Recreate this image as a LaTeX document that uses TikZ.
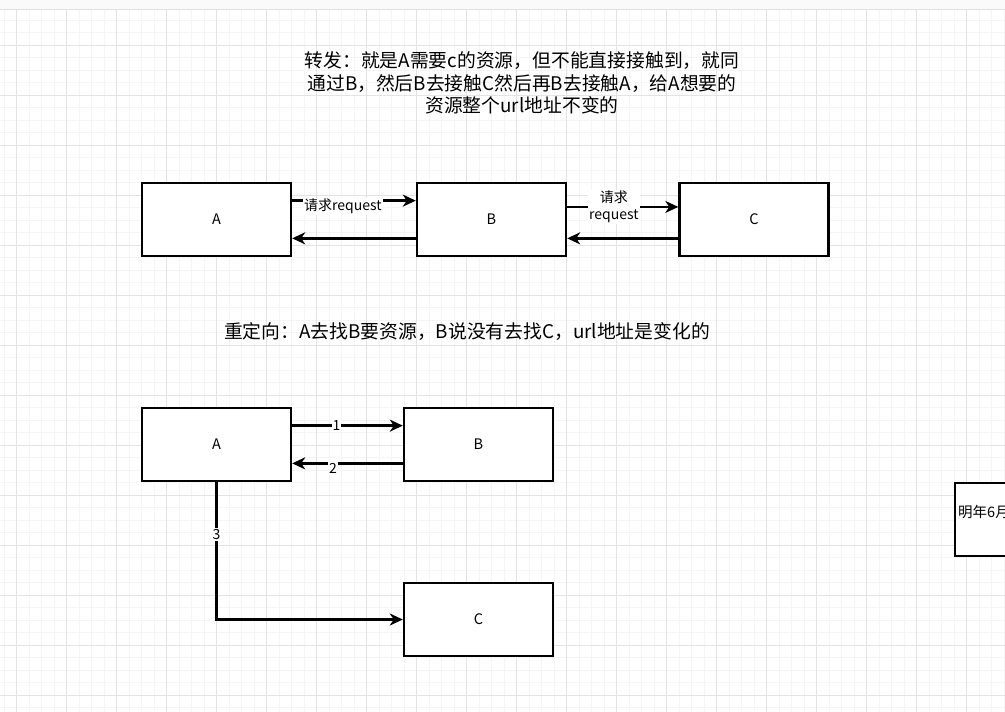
\documentclass[tikz,border=0pt]{standalone}
\usepackage{fontspec}
\setmainfont{Noto Sans CJK SC}
\usetikzlibrary{arrows.meta,calc}
\begin{document}
\begin{tikzpicture}[x=1pt,y=-1pt,
  box/.style={draw,line width=2.4pt,minimum width=149pt,minimum height=73pt,inner sep=0pt,font=\fontsize{14.5}{17}\selectfont,fill=white},
  arr/.style={line width=2.4pt,-{Stealth[length=13pt,width=12pt,inset=4pt]}},
  lbl/.style={fill=white,inner sep=1pt,font=\fontsize{14}{16.5}\selectfont,align=center},
  title/.style={font=\fontsize{18.8}{22.5}\selectfont,align=center},
  minorline/.style={black!4,line width=1pt},
  majorline/.style={black!11,line width=1pt}]
\useasboundingbox (0,0) rectangle (1005,712);
\clip (0,0) rectangle (1005,712);
\fill[white] (0,0) rectangle (1005,712);
\foreach \i in {0,...,80} \draw[minorline] ({4.2+12.5*\i},9) -- ({4.2+12.5*\i},712);
\foreach \j in {0,...,56} \draw[minorline] (0,{20+12.5*\j}) -- (1005,{20+12.5*\j});
\foreach \i in {0,...,20} \draw[majorline] ({16.7+50*\i},9) -- ({16.7+50*\i},712);
\foreach \j in {0,...,13} \draw[majorline] (0,{45+50*\j}) -- (1005,{45+50*\j});
\fill[black!2] (0,0) rectangle (1005,9);
\draw[black!12] (0,9) -- (1005,9);

\node[title] (t1) at (522,83) {转发：就是A需要c的资源，但不能直接接触到，就同\\通过B，然后B去接触C然后再B去接触A，给A想要的\\资源整个url地址不变的};
\node[title] (t2) at (467,332) {重定向：A去找B要资源，B说没有去找C，url地址是变化的};

% forward
\node[box] (A1) at (216.5,219.5) {A};
\node[box] (B1) at (491.5,219.5) {B};
\node[box] (C1) at (754,219.5) {C};
\draw[arr] ($(A1.north east)!0.25!(A1.south east)$) -- ($(B1.north west)!0.25!(B1.south west)$)
  node[lbl,pos=0.41,yshift=-6pt] {请求request};
\draw[arr] ($(B1.north west)!0.75!(B1.south west)$) -- ($(A1.north east)!0.75!(A1.south east)$);
\draw[arr] ($(B1.north east)!0.3333!(B1.south east)$) -- ($(C1.north west)!0.3333!(C1.south west)$)
  node[lbl,pos=0.42] {请求\\request};
\draw[arr] ($(C1.north west)!0.75!(C1.south west)$) -- ($(B1.north east)!0.75!(B1.south east)$);

% redirect
\node[box] (A2) at (216.5,444.5) {A};
\node[box] (B2) at (478.5,444.5) {B};
\node[box] (C2) at (478.5,619.5) {C};
\draw[arr] ($(A2.north east)!0.25!(A2.south east)$) -- ($(B2.north west)!0.25!(B2.south west)$)
  node[lbl,pos=0.4] {1};
\draw[arr] ($(B2.north west)!0.75!(B2.south west)$) -- ($(A2.north east)!0.75!(A2.south east)$)
  node[lbl,pos=0.63,yshift=-5pt] {2};
\draw[arr] (A2.south) |- (C2.west) node[lbl,pos=0.19] {3};

% partial box on the right
\node[box] (D) at (1029.5,519.5) {};
\node[anchor=west,inner sep=0pt,font=\fontsize{14.5}{17}\selectfont] (Dt) at (958,512) {明年6月};
\end{tikzpicture}
\end{document}
